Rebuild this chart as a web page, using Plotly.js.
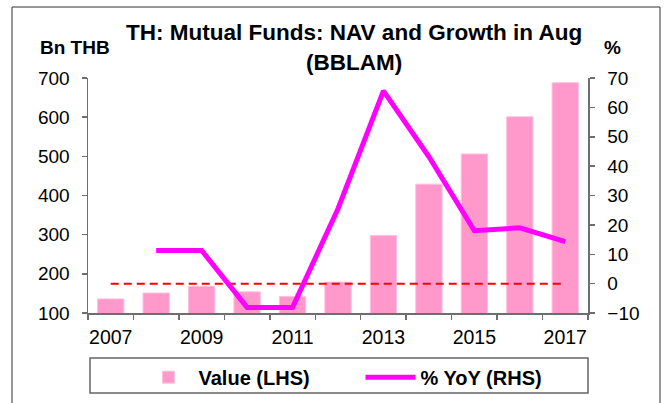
<!DOCTYPE html>
<html>
<head>
<meta charset="utf-8">
<script src="https://cdn.plot.ly/plotly-3.0.1.min.js"></script>
<style>html,body{margin:0;padding:0;background:#fff;}#chart{width:667px;height:403px;}</style>
</head>
<body>
<div id="chart"></div>
<script>
// Data
var years = [2007, 2008, 2009, 2010, 2011, 2012, 2013, 2014, 2015, 2016, 2017];
var navValue = [136, 151, 168, 154, 142, 179, 298, 429, 506, 601, 688];      // Bn THB (LHS)
var yoyGrowth = [null, 11.3, 11.3, -8.1, -8.1, 25.5, 65.6, 43.2, 18.0, 19.0, 14.3]; // % (RHS)
var zeroRef = [0, 0, 0, 0, 0, 0, 0, 0, 0, 0, 0];                               // % (RHS)
var leftTicks = [100, 200, 300, 400, 500, 600, 700];
var rightTicks = [-10, 0, 10, 20, 30, 40, 50, 60, 70];
var xLabelYears = [2007, 2009, 2011, 2013, 2015, 2017];

var FONT = 'Liberation Sans, Arial, Helvetica, sans-serif';
var AX = '#6e6e6e';

var traces = [
  {
    type: 'bar', x: years, y: navValue, name: 'Value (LHS)',
    marker: {color: '#FF99CC', line: {color: '#FFC0E0', width: 1}},
    yaxis: 'y', hoverinfo: 'x+y'
  },
  {
    type: 'scatter', mode: 'lines', x: years, y: zeroRef, yaxis: 'y2',
    line: {color: '#FF0000', width: 2, dash: '8px,5px'}, showlegend: false, hoverinfo: 'skip'
  },
  {
    type: 'scatter', mode: 'lines', x: years, y: yoyGrowth, name: '% YoY (RHS)',
    yaxis: 'y2', line: {color: '#FF00FF', width: 5}, connectgaps: false
  }
];

var layout = {
  width: 667, height: 403,
  margin: {l: 88, r: 79, t: 78, b: 90, autoexpand: false},
  paper_bgcolor: '#ffffff', plot_bgcolor: '#ffffff',
  font: {family: FONT, size: 18, color: '#000'},
  bargap: 0.42,
  showlegend: true,
  title: {
    text: 'TH: Mutual Funds: NAV and Growth in Aug<br>(BBLAM)',
    font: {family: FONT, size: 22.5, weight: 'bold', color: '#000'},
    x: 0.531, xanchor: 'center', xref: 'container',
    y: 0.9, yanchor: 'top', yref: 'container'
  },
  xaxis: {
    range: [2006.5, 2017.5], tickmode: 'array', tickvals: xLabelYears,
    ticktext: xLabelYears.map(String), ticks: '', ticklabelstandoff: 6,
    showline: true, linecolor: AX, linewidth: 1.5, showgrid: false, zeroline: false,
    tickfont: {family: FONT, size: 19.5, color: '#000'},
    minor: {tick0: 2006.5, dtick: 1, ticks: 'outside', ticklen: 5, tickcolor: AX, tickwidth: 1.5, showgrid: false}
  },
  yaxis: {
    range: [100, 700], tickmode: 'array', tickvals: leftTicks,
    ticks: 'outside', ticklen: 5, tickcolor: AX, tickwidth: 1.5, ticklabelstandoff: 8,
    showline: true, linecolor: AX, linewidth: 1.5, showgrid: false, zeroline: false,
    tickfont: {family: FONT, size: 19, color: '#000'}
  },
  yaxis2: {
    range: [-10, 70], tickmode: 'array', tickvals: rightTicks,
    overlaying: 'y', side: 'right',
    ticks: 'outside', ticklen: 5, tickcolor: AX, tickwidth: 1.5, ticklabelstandoff: 9,
    showline: true, linecolor: AX, linewidth: 1.5, showgrid: false, zeroline: false,
    tickfont: {family: FONT, size: 19, color: '#000'}
  },
  legend: {
    orientation: 'h', x: 0.101, xanchor: 'left', y: -0.19, yanchor: 'top',
    font: {family: FONT, size: 20, weight: 'bold', color: '#000'},
    bgcolor: 'rgba(0,0,0,0)', borderwidth: 0,
    entrywidth: 157, entrywidthmode: 'pixels', itemwidth: 50,
    traceorder: 'normal'
  },
  shapes: [
    {type: 'rect', xref: 'paper', yref: 'paper', x0: -0.152, x1: 1.144, y0: -0.46, y1: 1.302,
     line: {color: '#333333', width: 1}, layer: 'below'},
    {type: 'rect', xref: 'paper', yref: 'paper', x0: 0.004, x1: 1.0, y0: -0.340, y1: -0.1915,
     line: {color: '#666666', width: 1.5}, layer: 'below'}
  ],
  annotations: [
    {text: 'Bn THB', xref: 'paper', yref: 'paper', x: -0.026, y: 1.128, xanchor: 'center', yanchor: 'middle',
     showarrow: false, font: {family: FONT, size: 19, weight: 'bold', color: '#000'}},
    {text: '%', xref: 'paper', yref: 'paper', x: 1.048, y: 1.128, xanchor: 'center', yanchor: 'middle',
     showarrow: false, font: {family: FONT, size: 19, weight: 'bold', color: '#000'}}
  ]
};

Plotly.newPlot('chart', traces, layout, {displayModeBar: false, staticPlot: true});
</script>
</body>
</html>
